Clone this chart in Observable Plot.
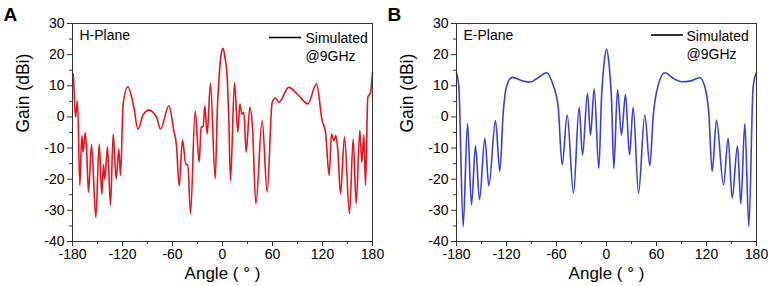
<!DOCTYPE html>
<html><head><meta charset="utf-8">
<script src="https://cdn.jsdelivr.net/npm/d3@7"></script>
<script src="https://cdn.jsdelivr.net/npm/@observablehq/plot@0.6"></script>
<style>
body{margin:0;background:#fff;}
#wrap{position:relative;width:768px;height:286px;}
#wrap svg{position:absolute;top:0;}
</style></head>
<body><div id="wrap"></div>
<script>
// H-plane (panel A)
const hAngle = [-180,-179.2,-176.4,-174,-171.2,-168.8,-167.2,-164.8,-163.2,-160.8,-157.2,-152,-148,-144.8,-142.8,-141.2,-138,-134.4,-131.2,-127.6,-124.4,-122.4,-119.2,-113.6,-106.4,-101.6,-95,-88.4,-79.2,-74.4,-64.4,-58.4,-55.2,-52,-48,-44,-41.6,-38.4,-32.8,-28,-25.6,-23.2,-21.2,-18.4,-14.4,-8.8,-6,-4,-2,0.8,3,5.6,7.5,9.6,14.4,18.4,20.8,23.2,25.6,28.4,32.8,36,40,47.6,53.6,59.6,63.6,67.6,79.6,91.6,102.4,112.8,119.6,123.6,128,130.8,133.6,136,138.4,141.6,146.4,152.4,156.8,160.4,164.8,167.2,169.6,171.6,174.4,177.6,180];
const hGain  = [14,13.8,0,5.2,-22,-6,-11.3,-5,-9.7,-24.2,-8.9,-32.2,-8.7,-24.9,-15.3,-20,-9.7,-28.4,-5.5,-19.9,-10.3,-18.8,4.2,9.7,3.1,-3.9,0.8,2.2,-0.1,-3.9,3.6,-4.4,-9.2,-22.2,-7.4,-15.3,-15.3,-31.1,2,-14.5,-3.3,-3.1,3.6,-5.5,10.8,-19.9,4,13,19.5,22,19,12.7,0,-20.4,11,-4.9,4.1,0.9,1.5,-11.3,3.1,-3.3,-27.9,-1.2,-24.2,4.7,6.1,4.7,9.5,6.8,4.2,10.6,-1.2,-4.9,-18.8,-5.5,-7.6,-6,-10.8,-24.7,-6.5,-31.1,-7.1,-27.9,-4.4,-14.5,-5.7,-22,6.3,7.9,14.3];

// E-plane (panel B)
const eAngle = [-180,-177.2,-172,-166.8,-162,-157.2,-152.4,-146,-141.2,-133.2,-128,-124,-120,-113.2,-100,-92,-82,-72,-64,-58,-53.2,-47.2,-39.6,-32.8,-28.8,-22.8,-19.2,-14.8,-9.2,-6,-3,0,3,6,8.8,13.2,18,22.8,27.6,32,38.4,46,52,56,62,70,80,90,100,112,118,122.8,126.8,132,140.4,146,150.8,157.2,161.2,166,170.8,176,180];
const eGain  = [14.2,9.7,-35.2,-2.1,-28.2,-9.3,-26.6,-6.9,-22.1,-1.2,-17.5,1.1,9.7,12.7,11.5,11.2,12.6,14.2,10.2,3.3,-15.4,0.6,-24.5,3.1,-12.2,7.6,-5.8,9,-16.5,6,17,21.8,17,6,-16.5,8.8,-5.8,7.3,-12.2,3.1,-24.5,0.6,-15.7,0.1,10.2,14.2,12.4,11.3,11.5,12.6,9.7,1.1,-17.5,-1,-21.8,-6.9,-26.1,-9.3,-27.9,-2.1,-35.2,9.7,14.2];

const xMajor = [-180,-120,-60,0,60,120,180];
const xMinor = [-150,-90,-30,30,90,150];
const yMajor = [-40,-30,-20,-10,0,10,20,30];
const yMinor = [-35,-25,-15,-5,5,15,25];

const panels = [
  {letter:"A", plane:"H-Plane", angle:hAngle, gain:hGain, color:"#e3161f", left:0, legDx:-67, legLine:[-103,-71], legY:14.5, textDy:19.5},
  {letter:"B", plane:"E-Plane", angle:eAngle, gain:eGain, color:"#3a40d2", left:384, legDx:-70, legLine:[-105,-73], legY:12, textDy:17.5}
];

const FONT = '"Liberation Sans", Arial, Helvetica, sans-serif';
const wrap = document.getElementById("wrap");

for (const p of panels) {
  const data = p.angle.map((a, i) => ({angle: a, gain: p.gain[i]}));
  const legendLine = (index, scales, values, dim) => {
    const g = d3.create("svg:g");
    const right = dim.width - dim.marginRight;
    g.append("line")
      .attr("x1", right + p.legLine[0]).attr("x2", right + p.legLine[1])
      .attr("y1", dim.marginTop + p.legY).attr("y2", dim.marginTop + p.legY)
      .attr("stroke", "#000").attr("stroke-width", 1.6);
    return g.node();
  };
  const chart = Plot.plot({
    width: 384, height: 286,
    marginLeft: 72, marginRight: 12, marginTop: 23, marginBottom: 45,
    x: {domain: [-180, 180]},
    y: {domain: [-40, 30]},
    style: {fontFamily: FONT, fontSize: "14px", color: "#000", background: "transparent", overflow: "visible"},
    marks: [
      Plot.axisX({ticks: xMinor, tickSize: 3, tickFormat: () => "", label: null, stroke: "#333"}),
      Plot.axisX({ticks: xMajor, tickSize: 5, tickPadding: 3, tickFormat: d => String(d), label: null, stroke: "#333"}),
      Plot.axisY({ticks: yMinor, tickSize: 3, tickFormat: () => "", label: null, stroke: "#333"}),
      Plot.axisY({ticks: yMajor, tickSize: 5, tickPadding: 3, tickFormat: d => String(d), label: null, stroke: "#333"}),
      Plot.line(data, {x: "angle", y: "gain", stroke: p.color, strokeWidth: 1.6, curve: "monotone-x"}),
      Plot.frame({stroke: "#333", strokeWidth: 1}),
      Plot.text([p.plane], {frameAnchor: "top-left", textAnchor: "start", lineAnchor: "bottom", dx: 7, dy: 16.5, fontSize: 14}),
      Plot.text(["Simulated"], {frameAnchor: "top-right", textAnchor: "start", lineAnchor: "bottom", dx: p.legDx, dy: p.textDy, fontSize: 14}),
      Plot.text(["@9GHz"], {frameAnchor: "top-right", textAnchor: "start", lineAnchor: "bottom", dx: p.legDx, dy: p.textDy + 17.5, fontSize: 14}),
      legendLine,
      Plot.text([p.letter], {frameAnchor: "top-left", textAnchor: "start", lineAnchor: "bottom", dx: -69, dy: -3, fontSize: 19, fontWeight: "bold"}),
      Plot.text(["Angle ( \u00b0 )"], {frameAnchor: "bottom", lineAnchor: "bottom", dy: 37, fontSize: 17}),
      Plot.text(["Gain (dBi)"], {frameAnchor: "left", rotate: -90, lineAnchor: "middle", dx: -49, fontSize: 17.5})
    ]
  });
  chart.style.left = p.left + "px";
  wrap.appendChild(chart);
}
</script>
</body></html>
